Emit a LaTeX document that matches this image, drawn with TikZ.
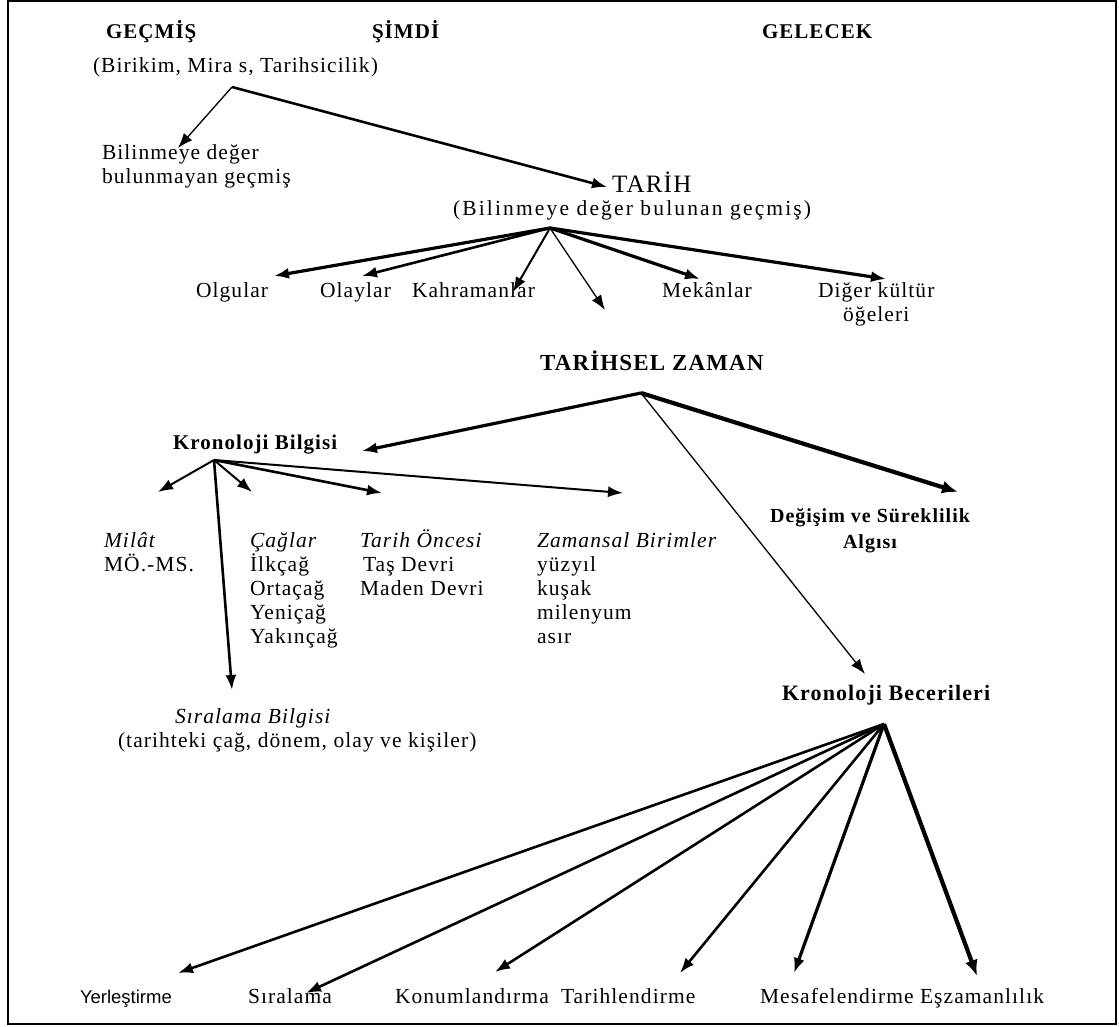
\documentclass[tikz,border=0pt]{standalone}
\usepackage{fontspec}
\setmainfont{Liberation Serif}[LetterSpace=5]
\newfontfamily\sansf{Liberation Sans}
\usetikzlibrary{arrows.meta}
\begin{document}
\begin{tikzpicture}[x=1pt,y=-1pt,
  every node/.style={inner sep=0pt,outer sep=0pt},
  rg/.style={font=\fontsize{21.5}{24}\selectfont,align=left,anchor=base west},
  hd/.style={font=\bfseries\fontsize{21}{24}\selectfont,align=left,anchor=base west},
  hdl/.style={font=\bfseries\fontsize{23}{26}\selectfont,anchor=base west},
  sf/.style={font=\sansf\fontsize{18.5}{22}\selectfont,anchor=base west},
  tip/.style={-{Latex[length=15pt,width=11pt]}},
  a1/.style={tip,line width=1.3pt},
  a2/.style={tip,line width=2pt},
  a3/.style={tip,line width=2.6pt},
  a4/.style={tip,line width=3.2pt},
  a5/.style={line width=4.2pt,-{Latex[length=16pt,width=13pt]}}]
\useasboundingbox (0,0) rectangle (1119,1027);
\draw[line width=1.6pt] (8,1) rectangle (1116,1024);

% top row
\node[hd] (gecmis) at (106,39) {GEÇMİŞ};
\node[rg] (birikim) at (93,73) {(Birikim, Mira s, Tarihsicilik)};
\node[hd] (simdi) at (372,39) {ŞİMDİ};
\node[hd] (gelecek) at (762,39) {GELECEK};
\coordinate (vG) at (232,87);

\node[rg] (bilinmeyen) at (102,184) {Bilinmeye değer\\bulunmayan geçmiş};
\coordinate (tBil) at (178,148);
\node[rg,font=\fontsize{25}{28}\selectfont] (tarih) at (612,193) {TARİH};
\coordinate (tTar) at (607,187);
\node[rg,font=\fontsize{21.5}{24}\selectfont\addfontfeature{LetterSpace=10}] (bilinen) at (453,216) {(Bilinmeye değer bulunan geçmiş)};
\draw[a1] (vG) -- (tBil);
\draw[a3] (vG) -- (tTar);

% Tarih children
\coordinate (vT) at (550,228);
\node[rg] (olgular) at (196,297) {Olgular};
\node[rg] (olaylar) at (320,297) {Olaylar};
\node[rg] (kahraman) at (412,297) {Kahramanlar};
\node[rg] (mekan) at (662,297) {Mekânlar};
\node[rg,align=center] (diger) at (818,321) {Diğer kültür\\öğeleri};
\coordinate (tOlg) at (274,276);
\coordinate (tOla) at (362,276);
\coordinate (tKah) at (513,292);
\coordinate (tTZ) at (605,310);
\coordinate (tMek) at (700,279);
\coordinate (tDig) at (886,279);
\draw[a4] (vT) -- (tOlg);
\draw[a3] (vT) -- (tOla);
\draw[a2] (vT) -- (tKah);
\draw[a1] (vT) -- (tTZ);
\draw[a4] (vT) -- (tMek);
\draw[a4] (vT) -- (tDig);

% Tarihsel zaman
\node[hdl] (tz) at (540,370) {TARİHSEL ZAMAN};
\coordinate (vZ) at (641,393);
\node[hd] (kbil) at (173,449) {Kronoloji Bilgisi};
\coordinate (tKB) at (362,451);
\node[hd,font=\bfseries\fontsize{20}{26}\selectfont,align=center,anchor=base] (degisim) at (870,548) {Değişim ve Süreklilik\\Algısı};
\coordinate (tDeg) at (958,492);
\node[hd,font=\bfseries\fontsize{22}{24}\selectfont] (kbec) at (782,700) {Kronoloji Becerileri};
\coordinate (tBec) at (865,674);
\draw[a4] (vZ) -- (tKB);
\draw[a1] (vZ) -- (tBec);
\draw[a5] (vZ) -- (tDeg);

% Kronoloji bilgisi children
\coordinate (vK) at (214,460);
\node[rg] (milat) at (104,571) {\textit{Milât}\\MÖ.-MS.};
\node[rg] (caglar) at (250,643) {\textit{Çağlar}\\İlkçağ\\Ortaçağ\\Yeniçağ\\Yakınçağ};
\node[rg] (oncesi) at (360,595) {\textit{Tarih Öncesi}\\\hspace*{3pt}Taş Devri\\Maden Devri};
\node[rg] (birim) at (537,643) {\textit{Zamansal Birimler}\\yüzyıl\\kuşak\\milenyum\\asır};
\node[rg] (sirab) at (118,747) {\hspace*{57pt}\textit{Sıralama Bilgisi}\\(tarihteki çağ, dönem, olay ve kişiler)};
\coordinate (tMil) at (158,492);
\coordinate (tCag) at (252,492);
\coordinate (tOnc) at (382,493);
\coordinate (tZam) at (623,493);
\coordinate (tSir) at (232,690);
\draw[a2] (vK) -- (tMil);
\draw[a2] (vK) -- (tCag);
\draw[a3] (vK) -- (tOnc);
\draw[a2] (vK) -- (tZam);
\draw[a3] (vK) -- (tSir);

% Kronoloji becerileri children
\coordinate (vB) at (884,724);
\node[sf] (yer) at (80,1003) {Yerleştirme};
\node[rg] (sira) at (248,1003) {Sıralama};
\node[rg] (konum) at (395,1003) {Konumlandırma};
\node[rg] (tarihl) at (561,1003) {Tarihlendirme};
\node[rg] (mesafe) at (760,1003) {Mesafelendirme};
\node[rg] (eszaman) at (920,1003) {Eşzamanlılık};
\coordinate (tYer) at (178,973);
\coordinate (tSira) at (306,993);
\coordinate (tKon) at (495,972);
\coordinate (tTrh) at (680,973);
\coordinate (tMes) at (794,973);
\coordinate (tEsz) at (977,976);
\draw[a3] (vB) -- (tYer);
\draw[a3] (vB) -- (tSira);
\draw[a3] (vB) -- (tKon);
\draw[a3] (vB) -- (tTrh);
\draw[a4] (vB) -- (tMes);
\draw[a5] (vB) -- (tEsz);
\end{tikzpicture}
\end{document}
